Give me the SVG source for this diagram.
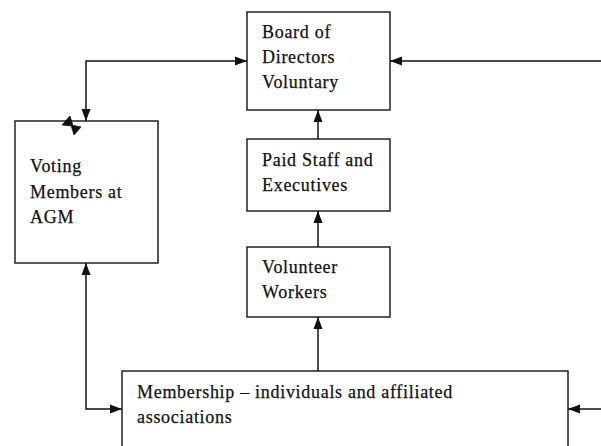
<svg xmlns="http://www.w3.org/2000/svg" width="601" height="446" viewBox="0 0 601 446">
<defs>
<style>
.box{fill:#fff;stroke:#222;stroke-width:1.5}
.ln{fill:none;stroke:#111;stroke-width:1.5}
text{font-family:"Liberation Serif","Times New Roman","DejaVu Serif",serif;font-size:18px;fill:#111;stroke:#111;stroke-width:0.25;letter-spacing:0.7px}
</style>
<marker id="ah" viewBox="0 0 12 10" refX="12" refY="5" markerWidth="12" markerHeight="10" markerUnits="userSpaceOnUse" orient="auto">
<path d="M0,0.5 L12,5 L0,9.5 Z" fill="#111"/>
</marker>
<marker id="ahs" viewBox="0 0 12 10" refX="12" refY="5" markerWidth="12" markerHeight="10" markerUnits="userSpaceOnUse" orient="auto-start-reverse">
<path d="M0,0.5 L12,5 L0,9.5 Z" fill="#111"/>
</marker>
</defs>
<rect width="601" height="446" fill="#fff"/>
<g id="board">
<rect class="box" x="247" y="12" width="143" height="98"/>
<text x="262" y="38">Board of</text>
<text x="262" y="63">Directors</text>
<text x="262" y="88">Voluntary</text>
</g>
<g id="paid-staff">
<rect class="box" x="247" y="139" width="143" height="72"/>
<text x="262" y="166">Paid Staff and</text>
<text x="262" y="191">Executives</text>
</g>
<g id="volunteer">
<rect class="box" x="247" y="247" width="143" height="70"/>
<text x="262" y="273">Volunteer</text>
<text x="262" y="298">Workers</text>
</g>
<g id="voting">
<rect class="box" x="15" y="121" width="143" height="142"/>
<text x="30" y="172">Voting</text>
<text x="30" y="198">Members at</text>
<text x="30" y="223">AGM</text>
</g>
<g id="membership">
<rect class="box" x="122" y="371" width="446" height="82"/>
<text x="137" y="398">Membership – individuals and affiliated</text>
<text x="137" y="423">associations</text>
</g>
<g id="connectors">
<path class="ln" d="M86,121 L86,61 L247,61" marker-start="url(#ahs)" marker-end="url(#ah)"/>
<path class="ln" d="M601,61 L390,61" marker-end="url(#ah)"/>
<path class="ln" d="M318,139 L318,110" marker-end="url(#ah)"/>
<path class="ln" d="M318,247 L318,211" marker-end="url(#ah)"/>
<path class="ln" d="M318,371 L318,317" marker-end="url(#ah)"/>
<path class="ln" d="M86,263 L86,409 L122,409" marker-start="url(#ahs)" marker-end="url(#ah)"/>
<path class="ln" d="M601,409 L568,409" marker-end="url(#ah)"/>
<path d="M62,125 L70,116 L73,126 Z M71,125 L81,127 L74,135 Z" fill="#111" stroke="#111" stroke-width="0.8" stroke-linejoin="round"/>
</g>
</svg>
